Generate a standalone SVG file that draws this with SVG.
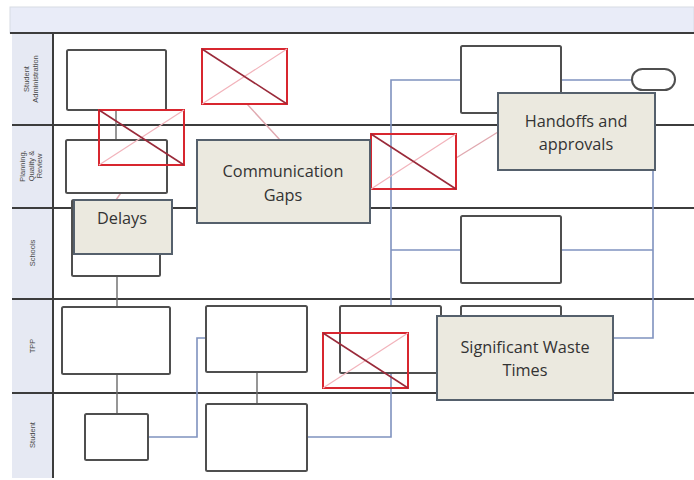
<svg xmlns="http://www.w3.org/2000/svg" width="694" height="480" viewBox="0 0 694 480">
  <style>
    .lane-label { font-family: "Liberation Sans", Arial, sans-serif; font-size: 7.5px; fill: #4a4a4a; text-anchor: middle; }
    .lane-line { stroke: #3c3c3c; stroke-width: 2; fill: none; }
    .box { fill: #ffffff; stroke: #4f4f4f; stroke-width: 2; }
    .xbox { fill: none; stroke: #d8262f; stroke-width: 2; }
    .xdark { stroke: #9a2a3a; stroke-width: 1.6; }
    .xlight { stroke: #f2b3bb; stroke-width: 1.2; }
    .callout { fill: #ebe9df; stroke: #55606c; stroke-width: 2; }
    .callout-text { font-family: "Open Sans", "Noto Sans", sans-serif; font-size: 16.3px; fill: #333; text-anchor: middle; }
    .flow { stroke: #7f92bf; stroke-width: 1.6; fill: none; }
    .flow-gray { stroke: #6a6a6a; stroke-width: 1.4; fill: none; }
    .link { stroke: #e0a9b0; stroke-width: 1.4; fill: none; }
  </style>

  <!-- page background -->
  <rect x="0" y="0" width="694" height="480" fill="#ffffff"/>

  <!-- header band and lane label column -->
  <g id="lanes">
    <rect x="10" y="7" width="684" height="26" fill="#e9ecf8" stroke="#d8dbe4" stroke-width="1"/>
    <rect x="12" y="33" width="41" height="445" fill="#e6e9f3"/>
    <line class="lane-line" x1="10" y1="33" x2="694" y2="33" stroke-width="2.5"/>
    <line class="lane-line" x1="12" y1="125" x2="694" y2="125"/>
    <line class="lane-line" x1="12" y1="208" x2="694" y2="208"/>
    <line class="lane-line" x1="12" y1="299" x2="694" y2="299"/>
    <line class="lane-line" x1="12" y1="393" x2="694" y2="393"/>
    <line class="lane-line" x1="53" y1="33" x2="53" y2="478" stroke-width="2.5"/>

    <text class="lane-label" transform="translate(32,79) rotate(-90)"><tspan x="0" y="-3">Student</tspan><tspan x="0" y="6">Administration</tspan></text>
    <text class="lane-label" transform="translate(32,166) rotate(-90)"><tspan x="0" y="-7">Planning,</tspan><tspan x="0" y="1.5">Quality &amp;</tspan><tspan x="0" y="10">Review</tspan></text>
    <text class="lane-label" transform="translate(32,253) rotate(-90)"><tspan x="0" y="2.5">Schools</tspan></text>
    <text class="lane-label" transform="translate(32,346) rotate(-90)"><tspan x="0" y="2.5">TPP</tspan></text>
    <text class="lane-label" transform="translate(32,435) rotate(-90)"><tspan x="0" y="2.5">Student</tspan></text>
  </g>

  <!-- connectors -->
  <g id="connectors">
    <polyline class="flow-gray" points="116,110 116,140"/>
    <polyline class="flow-gray" points="117,276 117,307"/>
    <polyline class="flow-gray" points="117,374 117,414"/>
    <polyline class="flow-gray" points="257,372 257,404"/>
    <polyline class="flow" points="148,437 197,437 197,338 206,338"/>
    <polyline class="flow" points="307,437 391,437 391,80 461,80"/>
    <polyline class="flow" points="391,250 461,250"/>
    <polyline class="flow" points="561,80 632,80"/>
    <polyline class="flow" points="561,250 653,250"/>
    <polyline class="flow" points="653,170 653,338 613,338"/>
    <line class="link" x1="247" y1="104" x2="280" y2="140"/>
    <line class="link" x1="140" y1="165" x2="116" y2="200"/>
    <line class="link" x1="456" y1="158" x2="498" y2="132"/>
    <line class="link" x1="408" y1="361" x2="437" y2="356"/>
  </g>

  <!-- Student Administration lane -->
  <g id="sa-box-1"><rect class="box" x="67" y="50" width="99" height="60" rx="1.5"/></g>
  <g id="sa-box-2"><rect class="box" x="461" y="46" width="100" height="67" rx="1.5"/></g>
  <g id="sa-end"><rect class="box" x="632" y="69" width="43" height="21" rx="10.5"/></g>

  <!-- Planning, Quality & Review lane -->
  <g id="pqr-box-1"><rect class="box" x="66" y="140" width="101" height="53" rx="1.5"/></g>

  <!-- Schools lane -->
  <g id="schools-box-1"><rect class="box" x="72" y="200" width="88" height="76" rx="1.5"/></g>
  <g id="schools-box-2"><rect class="box" x="461" y="216" width="100" height="67" rx="1.5"/></g>

  <!-- TPP lane -->
  <g id="tpp-box-1"><rect class="box" x="62" y="307" width="108" height="67" rx="1.5"/></g>
  <g id="tpp-box-2"><rect class="box" x="206" y="306" width="101" height="66" rx="1.5"/></g>
  <g id="tpp-box-3"><rect class="box" x="340" y="306" width="101" height="67" rx="1.5"/></g>
  <g id="tpp-box-4"><rect class="box" x="461" y="306" width="100" height="40" rx="1.5" stroke="#5f7560"/></g>

  <!-- Student lane -->
  <g id="student-box-1"><rect class="box" x="85" y="414" width="63" height="46" rx="1.5"/></g>
  <g id="student-box-2"><rect class="box" x="206" y="404" width="101" height="67" rx="1.5"/></g>

  <!-- placeholder frames (outline only) -->
  <g id="frame-1">
    <rect class="xbox" x="202" y="49" width="85" height="55"/>
    <line class="xlight" x1="202" y1="104" x2="287" y2="49"/>
    <line class="xdark" x1="202" y1="49" x2="287" y2="104"/>
  </g>
  <g id="frame-2">
    <rect class="xbox" x="99" y="110" width="85" height="55"/>
    <line class="xlight" x1="99" y1="165" x2="184" y2="110"/>
    <line class="xdark" x1="99" y1="110" x2="184" y2="165"/>
  </g>
  <g id="frame-3">
    <rect class="xbox" x="371" y="134" width="85" height="55"/>
    <line class="xlight" x1="371" y1="189" x2="456" y2="134"/>
    <line class="xdark" x1="371" y1="134" x2="456" y2="189"/>
  </g>
  <g id="frame-4">
    <rect class="xbox" x="323" y="333" width="85" height="55"/>
    <line class="xlight" x1="323" y1="388" x2="408" y2="333"/>
    <line class="xdark" x1="323" y1="333" x2="408" y2="388"/>
  </g>

  <!-- callouts -->
  <g id="communication-gaps">
    <rect class="callout" x="197" y="140" width="173" height="83"/>
    <text class="callout-text" x="283" y="177">Communication</text>
    <text class="callout-text" x="283" y="201">Gaps</text>
  </g>
  <g id="delays">
    <rect class="callout" x="74" y="200" width="98" height="54" stroke="#5b77a0"/>
    <text class="callout-text" x="122" y="224">Delays</text>
  </g>
  <g id="handoffs">
    <rect class="callout" x="498" y="93" width="157" height="77"/>
    <text class="callout-text" x="576" y="127">Handoffs and</text>
    <text class="callout-text" x="576" y="150">approvals</text>
  </g>
  <g id="waste-times">
    <rect class="callout" x="437" y="316" width="176" height="84"/>
    <text class="callout-text" x="525" y="353">Significant Waste</text>
    <text class="callout-text" x="525" y="376">Times</text>
  </g>
</svg>
